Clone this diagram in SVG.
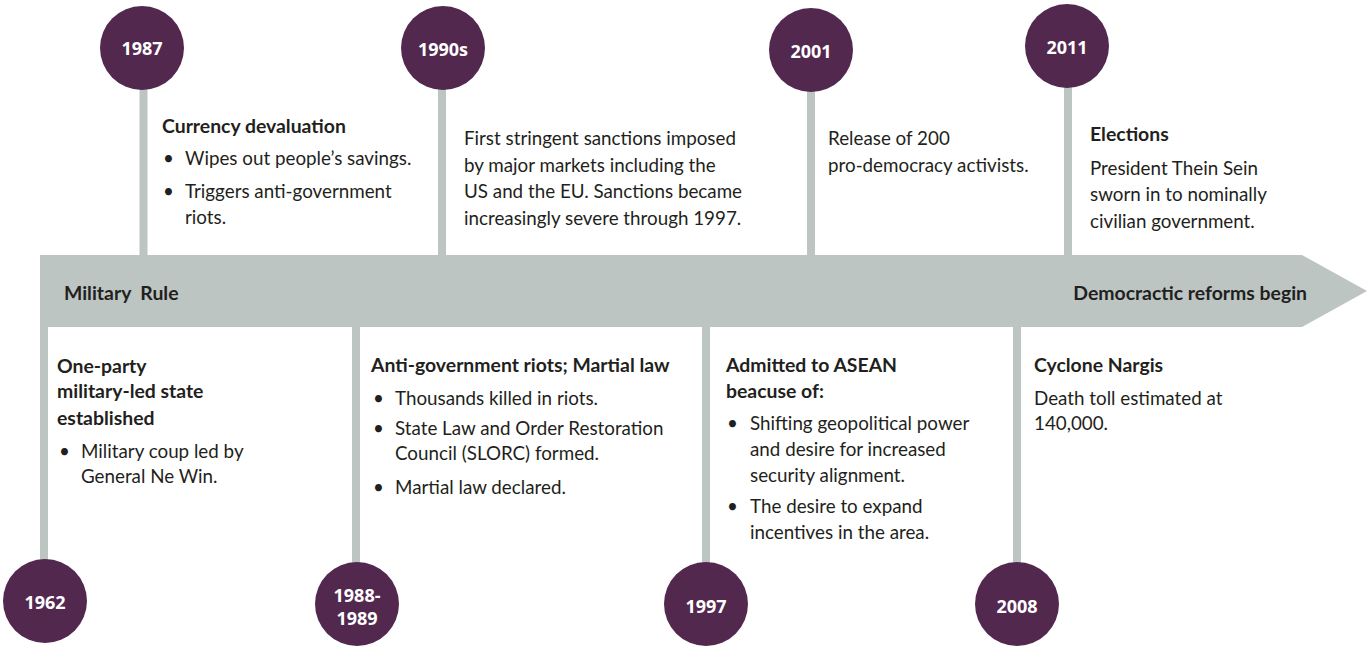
<svg xmlns="http://www.w3.org/2000/svg" width="1367" height="646" viewBox="0 0 1367 646">
<style>
.dot{fill:#53284f}
.yr{font-family:"Open Sans","Liberation Sans",sans-serif;font-weight:700;font-size:18px;fill:#ffffff;text-anchor:middle}
.stem{stroke:#bcc5c2;stroke-width:8;fill:none}
.t{font-family:Lato,"Liberation Sans",sans-serif;font-size:18.8px;fill:#231f20}
.b{font-family:Lato,"Liberation Sans",sans-serif;font-size:19.4px;font-weight:700;fill:#231f20}
</style>
<rect width="1367" height="646" fill="#ffffff"/>
<g id="connectors">
<line class="stem" x1="143.5" y1="80" x2="143.5" y2="256"/>
<line class="stem" x1="442" y1="80" x2="442" y2="256"/>
<line class="stem" x1="811" y1="80" x2="811" y2="256"/>
<line class="stem" x1="1068" y1="80" x2="1068" y2="256"/>
<line class="stem" x1="44" y1="326" x2="44" y2="580"/>
<line class="stem" x1="356" y1="326" x2="356" y2="580"/>
<line class="stem" x1="706" y1="326" x2="706" y2="580"/>
<line class="stem" x1="1017" y1="326" x2="1017" y2="580"/>
</g>
<g id="band">
<polygon points="40,255 1302,255 1367,291 1302,327 40,327" fill="#bcc5c2"/>
<text class="b" x="64" y="300" xml:space="preserve">Military  Rule</text>
<text class="b" x="1307" y="300" text-anchor="end">Democractic reforms begin</text>
</g>
<g id="n1987">
<circle class="dot" cx="142" cy="48" r="42"/>
<text class="yr" x="142" y="55">1987</text>
<text class="b" x="162" y="133">Currency devaluation</text>
<text class="t" x="163" y="165">•</text><text class="t" x="185" y="165">Wipes out people’s savings.</text>
<text class="t" x="163" y="198">•</text><text class="t" x="185" y="198">Triggers anti-government</text>
<text class="t" x="185" y="224">riots.</text>
</g>
<g id="n1990s">
<circle class="dot" cx="443" cy="48" r="42"/>
<text class="yr" x="443" y="56">1990s</text>
<text class="t" x="464" y="145">First stringent sanctions imposed</text>
<text class="t" x="464" y="172">by major markets including the</text>
<text class="t" x="464" y="198">US and the EU. Sanctions became</text>
<text class="t" x="464" y="225">increasingly severe through 1997.</text>
</g>
<g id="n2001">
<circle class="dot" cx="811" cy="50" r="42"/>
<text class="yr" x="811" y="58">2001</text>
<text class="t" x="828" y="145">Release of 200</text>
<text class="t" x="828" y="172">pro-democracy activists.</text>
</g>
<g id="n2011">
<circle class="dot" cx="1067" cy="46" r="42"/>
<text class="yr" x="1067" y="54">2011</text>
<text class="b" x="1090" y="141">Elections</text>
<text class="t" x="1090" y="175">President Thein Sein</text>
<text class="t" x="1090" y="201">sworn in to nominally</text>
<text class="t" x="1090" y="228">civilian government.</text>
</g>
<g id="n1962">
<circle class="dot" cx="45" cy="601" r="42"/>
<text class="yr" x="45" y="609">1962</text>
<text class="b" x="57" y="373">One-party</text>
<text class="b" x="57" y="398">military-led state</text>
<text class="b" x="57" y="425">established</text>
<text class="t" x="59" y="458">•</text><text class="t" x="81" y="458">Military coup led by</text>
<text class="t" x="81" y="483">General Ne Win.</text>
</g>
<g id="n1988">
<circle class="dot" cx="357" cy="604" r="42"/>
<text class="yr" x="357" y="602">1988-</text>
<text class="yr" x="357" y="625">1989</text>
<text class="b" x="371" y="372">Anti-government riots; Martial law</text>
<text class="t" x="373" y="405">•</text><text class="t" x="395" y="405">Thousands killed in riots.</text>
<text class="t" x="373" y="435">•</text><text class="t" x="395" y="435">State Law and Order Restoration</text>
<text class="t" x="395" y="460">Council (SLORC) formed.</text>
<text class="t" x="373" y="494">•</text><text class="t" x="395" y="494">Martial law declared.</text>
</g>
<g id="n1997">
<circle class="dot" cx="706" cy="604" r="42"/>
<text class="yr" x="706" y="613">1997</text>
<text class="b" x="726" y="372">Admitted to ASEAN</text>
<text class="b" x="726" y="398">beacuse of:</text>
<text class="t" x="727" y="430">•</text><text class="t" x="750" y="430">Shifting geopolitical power</text>
<text class="t" x="750" y="456">and desire for increased</text>
<text class="t" x="750" y="482">security alignment.</text>
<text class="t" x="727" y="513">•</text><text class="t" x="750" y="513">The desire to expand</text>
<text class="t" x="750" y="539">incentives in the area.</text>
</g>
<g id="n2008">
<circle class="dot" cx="1017" cy="604" r="42"/>
<text class="yr" x="1017" y="613">2008</text>
<text class="b" x="1034" y="372">Cyclone Nargis</text>
<text class="t" x="1034" y="405">Death toll estimated at</text>
<text class="t" x="1034" y="430">140,000.</text>
</g>
</svg>
